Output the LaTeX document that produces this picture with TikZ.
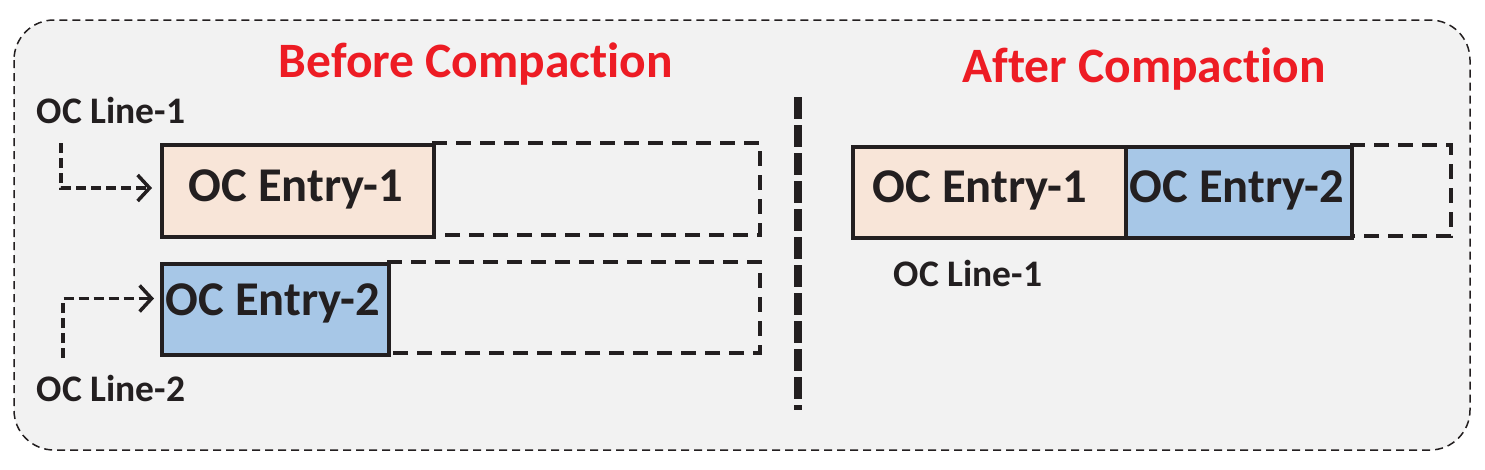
\documentclass[tikz,border=0pt]{standalone}
\usepackage{fontspec}
\setmainfont{Carlito}[RawFeature={-liga,-clig,-calt,-dlig}]
\usetikzlibrary{arrows.meta}
\definecolor{bgpanel}{HTML}{F2F2F2}
\definecolor{peach}{HTML}{F8E5D8}
\definecolor{lblue}{HTML}{A7C7E7}
\definecolor{titlered}{HTML}{ED1C24}
\definecolor{ink}{HTML}{231F20}
\tikzset{
  entrybox/.style={draw=ink, line width=4pt, inner sep=0pt},
  entrytext/.style={text=ink, font=\fontsize{48.5}{52}\selectfont\bfseries},
  slotbox/.style={draw=ink, line width=4pt, dash pattern=on 15pt off 9pt},
  title/.style={font=\fontsize{49.5}{53}\selectfont\bfseries, text=titlered},
  linelabel/.style={font=\fontsize{37.5}{40}\selectfont\bfseries, text=ink},
  ptr/.style={draw=ink, line width=3.5pt, dash pattern=on 10pt off 5pt, -{Straight Barb[length=12pt,width=26pt,line width=3.5pt]}},
}
\begin{document}
\begin{tikzpicture}[x=1pt,y=-1pt]
\useasboundingbox (0,0) rectangle (1485,469);
\draw[ink, line width=1.5pt, dash pattern=on 8pt off 5pt, fill=bgpanel, rounded corners=40pt] (14,20) rectangle (1470,450);

% titles
\node[title] (tb) at (476,64) {Before Compact\kern0pt ion};
\node[title] (ta) at (1144,69) {After Compact\kern0pt ion};

% divider
\coordinate (dtop) at (798,97);
\coordinate (dbot) at (798,410);
\draw[ink, line width=8pt, dash pattern=on 22pt off 6pt] (dtop) -- (dbot);

% before: slots
\draw[slotbox] (432,143) -- (760,143) -- (760,235) -- (432,235);
\draw[slotbox] (387,262) -- (760,262) -- (760,353) -- (387,353);
\node[entrybox, fill=peach, minimum width=272pt, minimum height=92pt, anchor=north west] (e1) at (160,143) {};
\node[entrytext] (e1t) at (296,189) {OC Entry-1};
\node[entrybox, fill=lblue, minimum width=227pt, minimum height=91pt, anchor=north west] (e2) at (160,262) {};
\node[entrytext] (e2t) at (273,303) {OC Entry-2};

\node[linelabel] (l1) at (111,110) {OC Line-1};
\node[linelabel] (l2) at (111,388) {OC Line-2};
\coordinate (p1) at (61,143);
\coordinate (p2) at (63,358);
\draw[ptr] (p1) |- ([xshift=-8pt,yshift=3pt]e1.west);
\draw[ptr] (p2) |- ([xshift=-6pt,yshift=11pt]e2.west);

% after
\draw[slotbox] (1350,145) -- (1451,145) -- (1451,236) -- (1350,236);
\node[entrybox, fill=peach, minimum width=273pt, minimum height=91pt, anchor=north west] (a1) at (851,145) {};
\node[entrybox, fill=lblue, minimum width=226pt, minimum height=91pt, anchor=north west] (a2) at (1124,145) {};
\node[entrytext] (a1t) at (980,190) {OC Entry-1};
\node[entrytext] (a2t) at (1237,190) {OC Entry-2};
\node[linelabel] (l3) at (968,273) {OC Line-1};
\end{tikzpicture}
\end{document}
